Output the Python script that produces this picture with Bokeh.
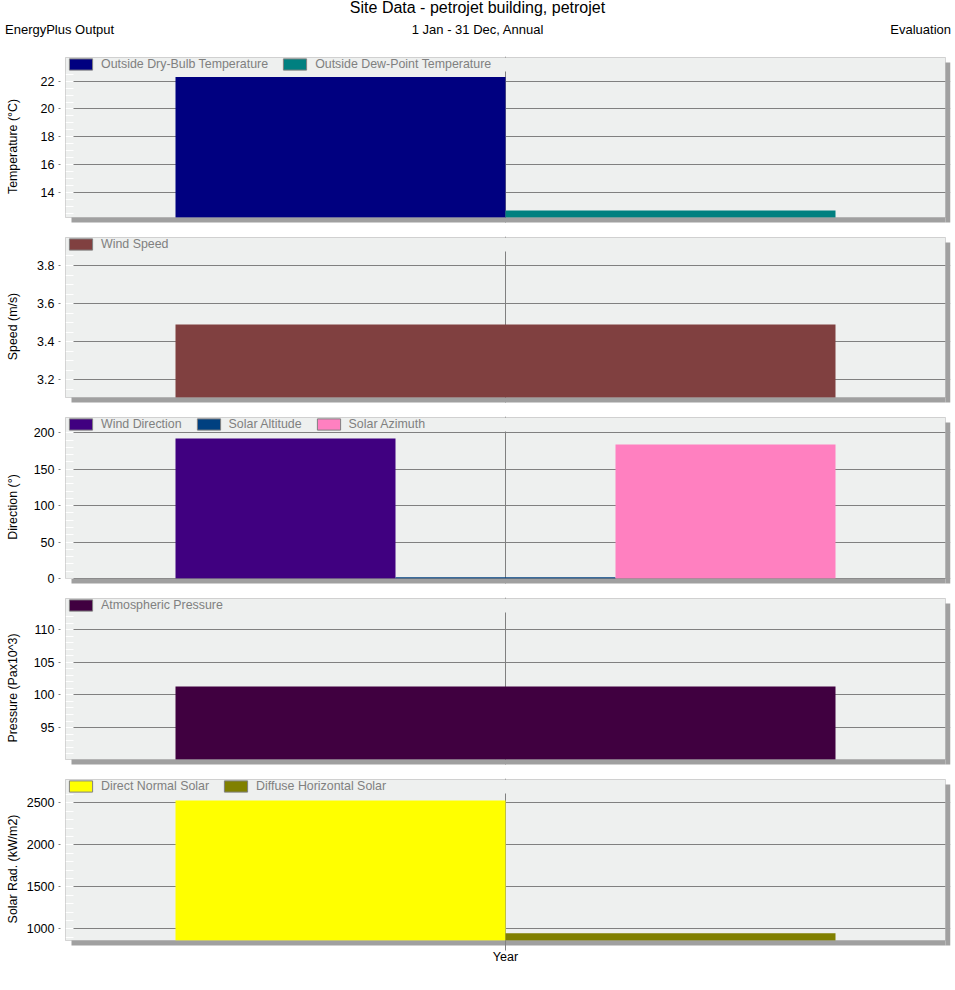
import numpy as np
from bokeh.plotting import figure
from bokeh.layouts import column
from bokeh.models import (Range1d, FactorRange, FixedTicker, Legend, LegendItem,
                          BoxAnnotation, ColumnDataSource, Div)
from bokeh.transform import dodge
from bokeh.embed import file_html
from bokeh.resources import INLINE

# ---------------------------------------------------------------- data
chart_title = "Site Data - petrojet building, petrojet"
header_left = "EnergyPlus Output"
header_center = "1 Jan - 31 Dec, Annual"
header_right = "Evaluation"

period = ["Year"]

temp_series = ["Outside Dry-Bulb Temperature", "Outside Dew-Point Temperature"]
temp_values = [22.3, 12.7]
temp_ticks = [14, 16, 18, 20, 22]

speed_series = ["Wind Speed"]
speed_values = [3.49]
speed_ticks = [3.2, 3.4, 3.6, 3.8]

direction_series = ["Wind Direction", "Solar Altitude", "Solar Azimuth"]
direction_values = [192.2, 1.8, 184.0]
direction_ticks = [0, 50, 100, 150, 200]

pressure_series = ["Atmospheric Pressure"]
pressure_values = [101.3]
pressure_ticks = [95, 100, 105, 110]

solar_series = ["Direct Normal Solar", "Diffuse Horizontal Solar"]
solar_values = [2527, 948]
solar_ticks = [1000, 1500, 2000, 2500]

# ---------------------------------------------------------------- style
FONT = "Liberation Sans"
W = 955
FRAME_LEFT = 60        # plot frame starts here; the boxed panel starts 5px further right
FRAME_RIGHT_PAD = 5
BOX_INSET = 5
FRAME_W = W - FRAME_LEFT - FRAME_RIGHT_PAD          # 890
BOX_W = FRAME_W - 2 * BOX_INSET                     # 880
TOP_PX = 1             # white line above each box
GAP_PX = 19            # space below each box inside the frame (shadow + white)
BAND_PX = 14           # legend strip at the top of each box
SHADOW_PX = 5
BG = "#EEF0EF"
EDGE = "#808080"
SHADOW = "#A0A0A0"
LABEL_SIZE = "12.4px"


def box(**kw):
    kw.setdefault("line_color", None)
    kw.setdefault("fill_alpha", 1.0)
    return BoxAnnotation(**kw)


def make_panel(series, values, colors, ticks, minor_step, y_start, y_end,
               ylabel, label_gap, box_h, show_x=False):
    frame_h = TOP_PX + box_h + GAP_PX
    bottom_border = 30 if show_x else 0
    u = (y_end - y_start) / box_h          # data units per pixel
    xu = 1.0 / BOX_W
    p = figure(frame_width=FRAME_W, frame_height=frame_h,
               x_range=FactorRange(factors=period, range_padding=BOX_INSET * xu,
                                   range_padding_units="absolute"),
               y_range=Range1d(y_start - GAP_PX * u, y_end + TOP_PX * u),
               x_axis_location="below" if show_x else None,
               output_backend="svg", toolbar_location=None,
               min_border_left=FRAME_LEFT, min_border_right=FRAME_RIGHT_PAD,
               min_border_top=0, min_border_bottom=bottom_border)
    p.background_fill_color = "white"
    p.border_fill_color = "white"
    p.outline_line_color = None

    band_bottom = y_end - BAND_PX * u
    sh = SHADOW_PX * u

    # panel face
    p.add_layout(box(left=0, right=1, top=y_end, bottom=y_start,
                     fill_color=BG, level="image"))

    # y axis and grid
    minor = list(np.arange(np.ceil(y_start / minor_step) * minor_step,
                           band_bottom, minor_step))
    ticker = FixedTicker(ticks=ticks, minor_ticks=minor)
    ax = p.yaxis[0]
    ax.ticker = ticker
    p.ygrid[0].ticker = ticker
    ax.axis_line_color = None
    ax.major_tick_out = 2
    ax.major_tick_in = BOX_INSET
    ax.major_tick_line_color = EDGE
    ax.minor_tick_out = 0
    ax.minor_tick_in = BOX_INSET + 8
    ax.minor_tick_line_color = "white"
    ax.major_label_standoff = 4
    ax.major_label_text_font = FONT
    ax.major_label_text_font_size = "12.5px"
    ax.major_label_text_color = "black"
    ax.axis_label = ylabel
    ax.axis_label_standoff = label_gap
    ax.axis_label_text_font = FONT
    ax.axis_label_text_font_size = LABEL_SIZE
    ax.axis_label_text_font_style = "normal"
    ax.axis_label_text_color = "black"
    p.ygrid.grid_line_color = EDGE
    p.xgrid.grid_line_color = EDGE

    if show_x:
        xa = p.xaxis[0]
        xa.axis_line_color = None
        xa.major_tick_in = GAP_PX
        xa.major_tick_out = -(GAP_PX - 10)
        xa.minor_tick_out = 0
        xa.major_tick_line_color = EDGE
        xa.major_label_standoff = -10
        xa.major_label_text_font = FONT
        xa.major_label_text_font_size = "12.5px"
        xa.major_label_text_color = "black"

    # masks drawn over the grid: legend strip, shadow, white space below
    p.add_layout(box(left=0, right=1, top=y_end, bottom=band_bottom,
                     fill_color=BG, level="underlay"))
    p.add_layout(box(top=y_start - sh, fill_color="white", level="underlay"))
    p.add_layout(box(left=1, top=y_end + TOP_PX * u, fill_color="white", level="underlay"))
    p.add_layout(box(left=1, right=1 + SHADOW_PX * xu, top=y_end - sh, bottom=y_start - sh,
                     fill_color=SHADOW, level="underlay"))
    p.add_layout(box(left=(SHADOW_PX + 1) * xu, right=1, top=y_start, bottom=y_start - sh,
                     fill_color=SHADOW, level="underlay"))

    # bars, side by side inside the single category
    n = len(series)
    bw = 0.75 / n
    items = []
    for i, (name, val, col) in enumerate(zip(series, values, colors)):
        src = ColumnDataSource(dict(x=period, top=[val]))
        off = -0.375 + bw * (i + 0.5)
        xs = dodge("x", off, range=p.x_range)
        p.vbar(x=xs, top="top", bottom=y_start, width=bw, source=src,
               fill_color=col, line_color=None)
        key = p.vbar(x=xs, top="top", bottom=y_start, width=bw, source=src,
                     fill_color=col, line_color=EDGE, visible=False)
        items.append(LegendItem(label=name, renderers=[key]))

    # panel border
    p.add_layout(BoxAnnotation(left=0, right=1, top=y_end, bottom=y_start,
                               fill_alpha=0, line_color=EDGE, line_width=1,
                               level="annotation"))

    legend = Legend(items=items, location=(BOX_INSET + 1, frame_h - TOP_PX - 14),
                    orientation="horizontal",
                    glyph_width=29, glyph_height=14, label_height=14,
                    label_standoff=6, spacing=12, padding=0, margin=0,
                    label_text_font=FONT, label_text_font_size=LABEL_SIZE,
                    label_text_color=EDGE, background_fill_alpha=0,
                    border_line_alpha=0, inactive_fill_alpha=0)
    p.add_layout(legend)
    return p


# ---------------------------------------------------------------- header
header_html = f"""
<div style="position:relative;width:{W}px;height:56px;font-family:'{FONT}';color:black;">
  <div style="position:absolute;left:0;top:-1px;width:{W}px;text-align:center;font-size:16px;line-height:18px;">{chart_title}</div>
  <div style="position:absolute;left:5px;top:22px;font-size:13px;line-height:15px;">{header_left}</div>
  <div style="position:absolute;left:0;top:22px;width:{W}px;text-align:center;font-size:13px;line-height:15px;">{header_center}</div>
  <div style="position:absolute;right:4px;top:22px;font-size:13px;line-height:15px;">{header_right}</div>
</div>
"""
head = Div(text=header_html, width=W, height=56, margin=0)

# ---------------------------------------------------------------- panels
p1 = make_panel(temp_series, temp_values, ["#000080", "#008080"], temp_ticks, 0.5,
                12.2, 23.7, "Temperature (°C)", 18, 160)
p2 = make_panel(speed_series, speed_values, ["#804040"], speed_ticks, 0.05,
                3.107, 3.947, "Speed (m/s)", 14, 160)
p3 = make_panel(direction_series, direction_values, ["#400080", "#004080", "#FF80C0"],
                direction_ticks, 10, 0, 221, "Direction (°)", 11, 161)
p4 = make_panel(pressure_series, pressure_values, ["#400040"], pressure_ticks, 1,
                90.09, 114.81, "Pressure (Pax10^3)", 11, 161)
p5 = make_panel(solar_series, solar_values, ["#FFFF00", "#808000"], solar_ticks, 100,
                861, 2777.7, "Solar Rad. (kW/m2)", 4, 161, show_x=True)

layout = column(head, p1, p2, p3, p4, p5, spacing=0)

with open("out.html", "w") as f:
    f.write(file_html(layout, INLINE))
